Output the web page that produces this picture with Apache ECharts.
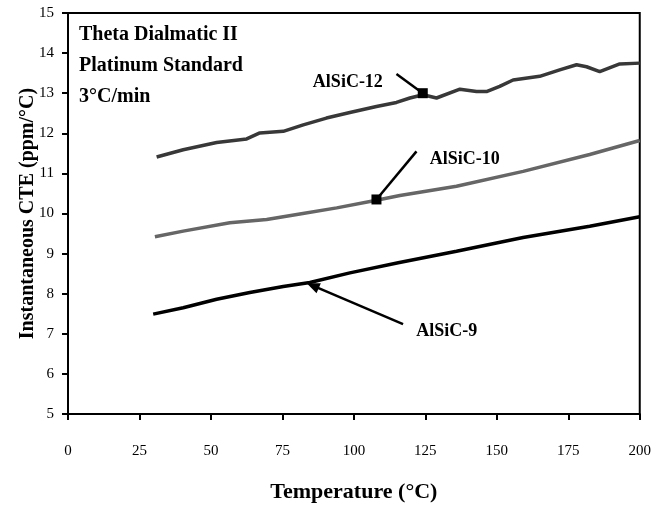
<!DOCTYPE html>
<html>
<head>
<meta charset="utf-8">
<script src="https://cdn.jsdelivr.net/npm/echarts@6/dist/echarts.min.js"></script>
<style>html,body{margin:0;padding:0;background:#fff;}#c{width:654px;height:508px;}</style>
</head>
<body>
<div id="c"></div>
<script>
const seriesNames = ['AlSiC-12', 'AlSiC-10', 'AlSiC-9'];
const temps12 = [31, 40.3, 52, 62.5, 67.1, 75.3, 82.3, 90.4, 98.6, 107.9, 114.9, 119.6, 124.2, 128.9, 137.1, 142.9, 146.4, 151, 155.7, 165, 172, 177.9, 181.4, 186, 193, 200];
const cte12 = [11.41, 11.59, 11.77, 11.86, 12.01, 12.05, 12.21, 12.38, 12.52, 12.67, 12.77, 12.88, 12.96, 12.88, 13.10, 13.04, 13.04, 13.17, 13.33, 13.42, 13.58, 13.71, 13.66, 13.54, 13.73, 13.75];
const temps10 = [30.4, 40.3, 56.6, 69.5, 81.1, 94, 107.9, 116.1, 135.9, 159.2, 182.5, 200];
const cte10 = [9.42, 9.56, 9.77, 9.85, 9.99, 10.14, 10.33, 10.45, 10.68, 11.05, 11.47, 11.82];
const temps9 = [29.8, 40.3, 52, 63.6, 75.3, 84.6, 98.6, 115.5, 135.9, 159.2, 182.5, 200];
const cte9 = [7.49, 7.65, 7.86, 8.03, 8.18, 8.28, 8.52, 8.77, 9.06, 9.40, 9.68, 9.92];
// callout lines: [labelEndX, labelEndY, curveX, curveY]
const callout12 = [114.9, 13.48, 124.1, 13.0];
const callout10 = [121.9, 11.55, 107.9, 10.35];
const callout9 = [117.2, 7.24, 85.6, 8.2];
// label centres
const labelPos12 = [97.9, 13.28];
const labelPos10 = [138.8, 11.34];
const labelPos9 = [132.5, 7.06];
const xTicks = [0, 25, 50, 75, 100, 125, 150, 175, 200];
const yTicks = [5, 6, 7, 8, 9, 10, 11, 12, 13, 14, 15];
const noteLines = ['Theta Dialmatic II', 'Platinum Standard', '3°C/min'];

const FONT = 'Liberation Serif';
function pairs(xs, ys) { return xs.map((x, i) => [x, ys[i]]); }
function callout(c) {
  return {
    silent: true,
    symbol: ['none', 'none'],
    lineStyle: { color: '#000', width: 2.5, type: 'solid' },
    label: { show: false },
    data: [[{ coord: [c[0], c[1]] }, { coord: [c[2], c[3]] }]]
  };
}
function marks(name, p, c, sym, size, rot) {
  return {
    silent: true,
    data: [
      { coord: p, symbol: 'circle', symbolSize: 0,
        label: { show: true, position: 'inside', formatter: name, color: '#000',
          fontFamily: FONT, fontWeight: 'bold', fontSize: 18 } },
      { coord: [c[2], c[3]], symbol: sym, symbolSize: size, symbolRotate: rot,
        itemStyle: { color: '#000' }, label: { show: false } }
    ]
  };
}
const chart = echarts.init(document.getElementById('c'), null, { renderer: 'canvas' });
chart.setOption({
  animation: false,
  backgroundColor: '#fff',
  grid: { left: 68, right: 14, top: 13, bottom: 93, show: true, borderColor: '#000', borderWidth: 2, backgroundColor: 'transparent' },
  xAxis: {
    type: 'value', min: xTicks[0], max: xTicks[xTicks.length - 1], interval: 25,
    name: 'Temperature (°C)', nameLocation: 'middle', nameGap: 67, nameMoveOverlap: false,
    nameTextStyle: { fontFamily: FONT, fontWeight: 'bold', fontSize: 22, color: '#000' },
    axisLine: { show: true, lineStyle: { color: '#000', width: 2 } },
    axisTick: { show: true, length: 6, inside: false, lineStyle: { color: '#000', width: 2 } },
    axisLabel: { margin: 30, fontFamily: FONT, fontSize: 15, color: '#000' },
    splitLine: { show: false }
  },
  yAxis: {
    type: 'value', min: yTicks[0], max: yTicks[yTicks.length - 1], interval: 1,
    name: 'Instantaneous CTE (ppm/°C)', nameLocation: 'middle', nameGap: 30, nameMoveOverlap: false,
    nameTextStyle: { fontFamily: FONT, fontWeight: 'bold', fontSize: 20, color: '#000' },
    axisLine: { show: true, lineStyle: { color: '#000', width: 2 } },
    axisTick: { show: true, length: 6, inside: false, lineStyle: { color: '#000', width: 2 } },
    axisLabel: { margin: 14, fontFamily: FONT, fontSize: 15, color: '#000' },
    splitLine: { show: false }
  },
  graphic: noteLines.map((t, i) => ({
    type: 'text', left: 79, top: 25 + i * 31,
    style: { text: t, fontFamily: FONT, fontWeight: 'bold', fontSize: 20, fill: '#000' }
  })),
  series: [
    { name: seriesNames[0], type: 'line', data: pairs(temps12, cte12), showSymbol: false,
      lineStyle: { color: '#383838', width: 3.5 }, z: 3,
      markLine: callout(callout12), markPoint: marks(seriesNames[0], labelPos12, callout12, 'rect', 10, 0) },
    { name: seriesNames[1], type: 'line', data: pairs(temps10, cte10), showSymbol: false,
      lineStyle: { color: '#666666', width: 3.5 }, z: 3,
      markLine: callout(callout10), markPoint: marks(seriesNames[1], labelPos10, callout10, 'rect', 10, 0) },
    { name: seriesNames[2], type: 'line', data: pairs(temps9, cte9), showSymbol: false,
      lineStyle: { color: '#000000', width: 3.5 }, z: 3,
      markLine: callout(callout9), markPoint: marks(seriesNames[2], labelPos9, callout9, 'triangle', [11, 13], 67) }
  ]
});
</script>
</body>
</html>
